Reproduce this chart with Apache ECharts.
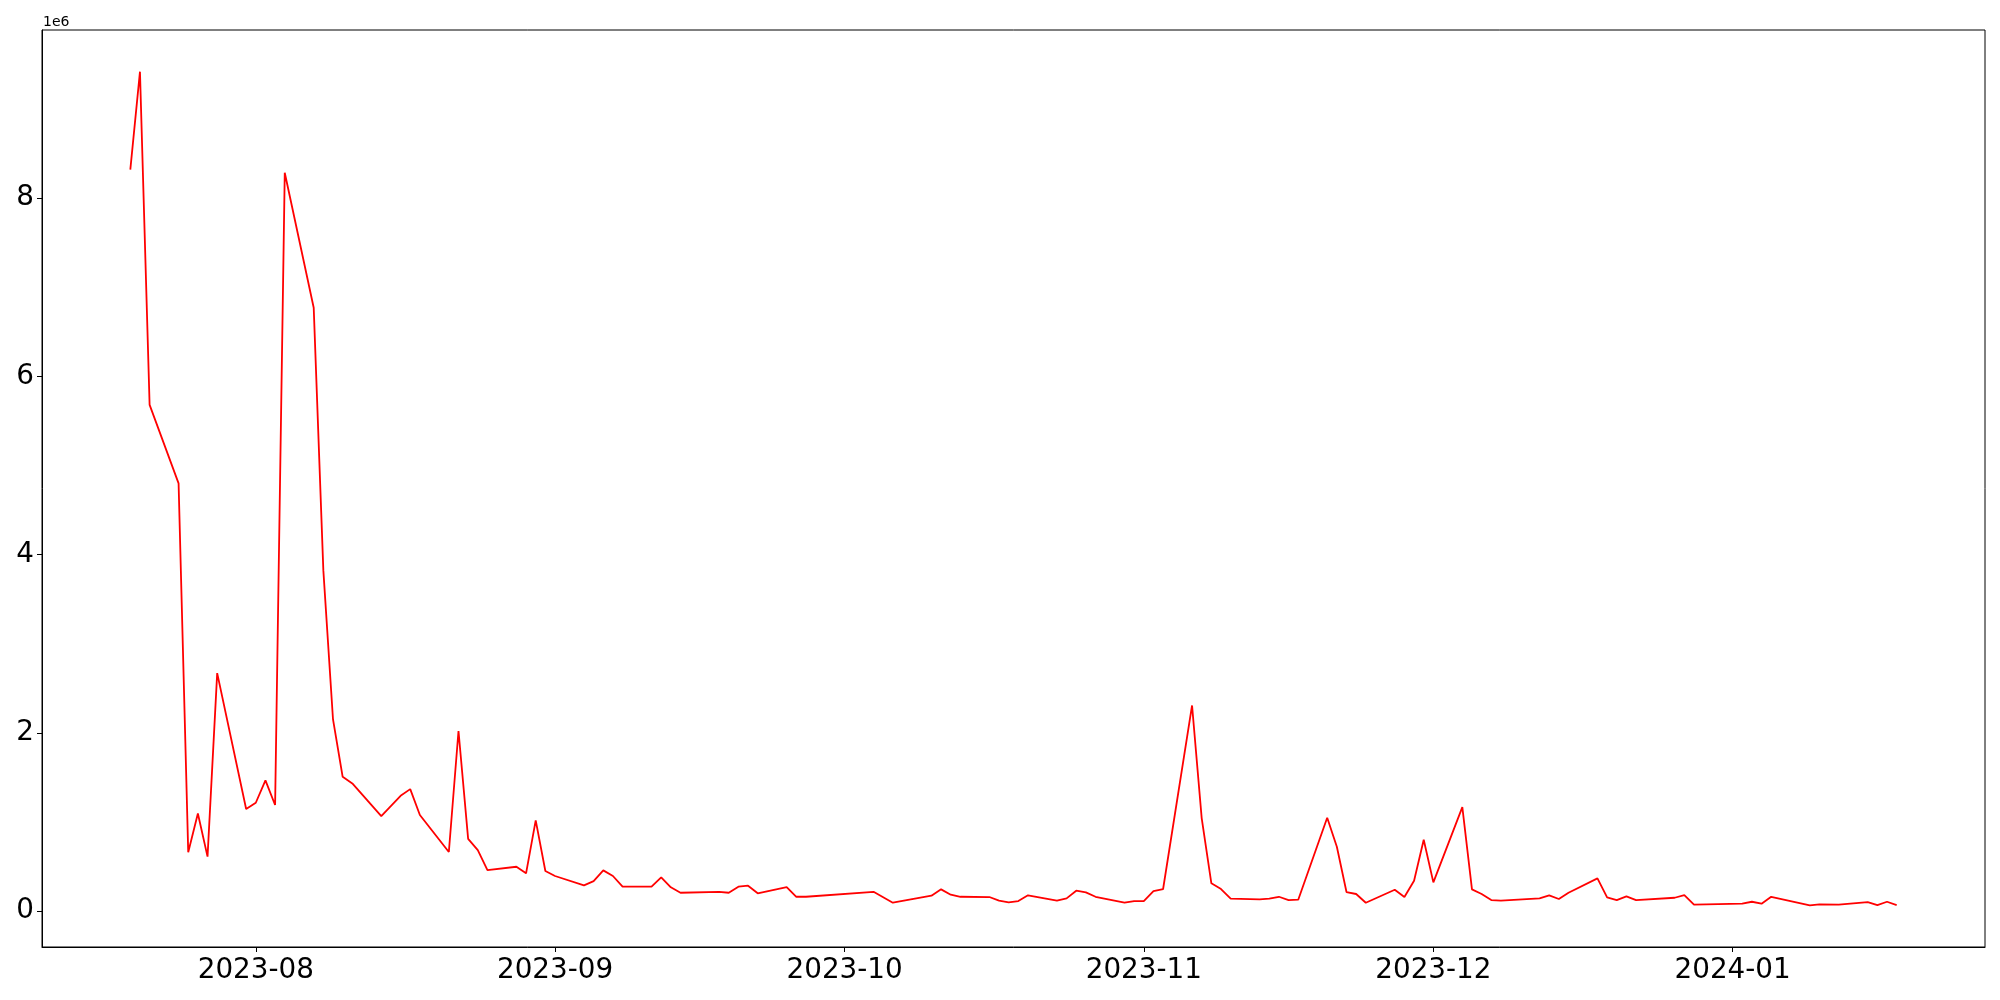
<!DOCTYPE html>
<html><head><meta charset="utf-8">
<script src="https://cdn.jsdelivr.net/npm/echarts@6/dist/echarts.min.js"></script>
<style>html,body{margin:0;padding:0;background:#fff}#c{width:2000px;height:1000px}</style>
</head><body><div id="c"></div>
<script>
const dates = [
 '2023-07-19','2023-07-20','2023-07-21','2023-07-24','2023-07-25','2023-07-26','2023-07-27','2023-07-28','2023-07-31',
 '2023-08-01','2023-08-02','2023-08-03','2023-08-04','2023-08-07','2023-08-08','2023-08-09','2023-08-10','2023-08-11',
 '2023-08-14','2023-08-16','2023-08-17','2023-08-18','2023-08-21','2023-08-22','2023-08-23','2023-08-24','2023-08-25',
 '2023-08-28','2023-08-29','2023-08-30','2023-08-31','2023-09-01','2023-09-04','2023-09-05','2023-09-06','2023-09-07',
 '2023-09-08','2023-09-11','2023-09-12','2023-09-13','2023-09-14','2023-09-18','2023-09-19','2023-09-20','2023-09-21',
 '2023-09-22','2023-09-25','2023-09-26','2023-09-27','2023-10-04','2023-10-06','2023-10-10','2023-10-11','2023-10-12',
 '2023-10-13','2023-10-16','2023-10-17','2023-10-18','2023-10-19','2023-10-20','2023-10-23','2023-10-24','2023-10-25',
 '2023-10-26','2023-10-27','2023-10-30','2023-10-31','2023-11-01','2023-11-02','2023-11-03','2023-11-06','2023-11-07',
 '2023-11-08','2023-11-09','2023-11-10','2023-11-13','2023-11-14','2023-11-15','2023-11-16','2023-11-17','2023-11-20',
 '2023-11-21','2023-11-22','2023-11-23','2023-11-24','2023-11-27','2023-11-28','2023-11-29','2023-11-30','2023-12-01',
 '2023-12-04','2023-12-05','2023-12-06','2023-12-07','2023-12-08','2023-12-12','2023-12-13','2023-12-14','2023-12-15',
 '2023-12-18','2023-12-19','2023-12-20','2023-12-21','2023-12-22','2023-12-26','2023-12-27','2023-12-28','2024-01-02',
 '2024-01-03','2024-01-04','2024-01-05','2024-01-09','2024-01-10','2024-01-12','2024-01-15','2024-01-16','2024-01-17',
 '2024-01-18'
];
const values = [
 8320000,9420000,5680000,4800000,660000,1095000,610000,2670000,1145000,
 1215000,1466000,1190000,8285000,6770000,3820000,2150000,1506000,1432000,
 1065000,1293000,1368000,1077000,662000,2020000,810000,684000,460000,
 497000,423000,1017000,449000,393000,288000,336000,456000,393000,
 273000,273000,378000,266000,205000,216000,205000,273000,284000,
 199000,269000,160000,160000,216000,93000,172000,243000,183000,
 160000,157000,116000,98000,112000,176000,116000,142000,228000,
 210000,160000,93000,112000,112000,224000,247000,2307000,1040000,
 311000,247000,138000,131000,138000,160000,123000,127000,1046000,
 721000,213000,191000,93000,239000,157000,340000,800000,322000,
 1166000,243000,191000,123000,116000,142000,176000,135000,205000,
 367000,154000,123000,165000,123000,149000,179000,71000,82000,
 104000,82000,160000,64000,75000,71000,101000,67000,104000,
 67000
];
const xTickLabels = ['2023-08','2023-09','2023-10','2023-11','2023-12','2024-01'];
const yTickValues = [0, 2000000, 4000000, 6000000, 8000000];
const yTickLabels = ['0','2','4','6','8'];
const offsetLabel = '1e6';

function ts(s){const p=s.split('-').map(Number);return Date.UTC(p[0],p[1]-1,p[2]||1);}
const xs = dates.map(ts);
const seriesData = xs.map((x,i)=>[x, values[i]]);
const xMin0 = Math.min(...xs), xMax0 = Math.max(...xs);
const xPad = (xMax0 - xMin0) * 0.05;
const vMin = Math.min(...values), vMax = Math.max(...values);
const yPad = (vMax - vMin) * 0.05;
const xTicks = xTickLabels.map(ts);

const font = 'DejaVu Sans';
const chart = echarts.init(document.getElementById('c'), null, {renderer:'canvas'});
chart.setOption({
  animation: false,
  backgroundColor: '#fff',
  graphic: [{type: 'text', x: 43, y: 15, silent: true,
    style: {text: offsetLabel, fontSize: 14, fill: '#000', fontFamily: font, textAlign: 'left', textVerticalAlign: 'top'}}],
  grid: {left: 42, top: 30, width: 1943, height: 917, show: true, borderColor: '#000', borderWidth: 1,
    containLabel: false, outerBoundsMode: 'none'},
  xAxis: {
    type: 'value', min: xMin0 - xPad, max: xMax0 + xPad, scale: true,
    axisLine: {show: true, onZero: false, lineStyle: {color: '#000', width: 1}},
    axisTick: {show: true, customValues: xTicks, length: 5, lineStyle: {color: '#000', width: 1}},
    axisLabel: {customValues: xTicks, hideOverlap: false, showMinLabel: true, showMaxLabel: true,
      formatter: function(v){ const i = xTicks.indexOf(v); return i >= 0 ? xTickLabels[i] : ''; },
      fontSize: 27.8, color: '#000', fontFamily: font, margin: 10},
    splitLine: {show: false}
  },
  yAxis: {
    type: 'value', min: vMin - yPad, max: vMax + yPad, scale: true,
    axisLine: {show: true, onZero: false, lineStyle: {color: '#000', width: 1}},
    axisTick: {show: true, customValues: yTickValues, length: 5, lineStyle: {color: '#000', width: 1}},
    axisLabel: {customValues: yTickValues,
      formatter: function(v){ const i = yTickValues.indexOf(v); return i >= 0 ? yTickLabels[i] : ''; },
      fontSize: 27.8, color: '#000', fontFamily: font, margin: 8},
    splitLine: {show: false}
  },
  series: [{
    type: 'line', data: seriesData, showSymbol: false, symbol: 'none',
    lineStyle: {color: '#ff0000', width: 1.8}, itemStyle: {color: '#ff0000'}
  }]
});
</script>
</body></html>
